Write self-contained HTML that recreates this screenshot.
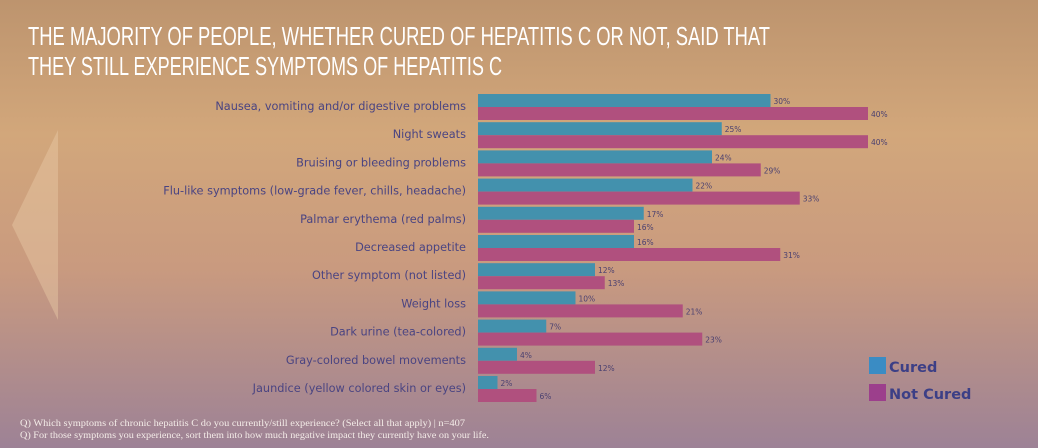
<!DOCTYPE html>
<html><head><meta charset="utf-8"><style>
html,body{margin:0;padding:0;width:1038px;height:448px;overflow:hidden}
svg{display:block}
</style></head><body>
<svg id="chart" width="1038" height="448" viewBox="0 0 1038 448">
<defs>
<linearGradient id="bg" x1="0" y1="0" x2="0" y2="1">
<stop offset="0" stop-color="#bd946e"/>
<stop offset="0.3" stop-color="#d2a77b"/>
<stop offset="0.6" stop-color="#c99a7f"/>
<stop offset="1" stop-color="#9d8296"/>
</linearGradient>
</defs>
<rect width="1038" height="448" fill="url(#bg)"/>
<polygon points="58,130 12,225 58,320" fill="#e8c9a6" opacity="0.45"/>
<text x="28" y="45" fill="#ffffff" font-family="'Liberation Sans Narrow','Liberation Sans',sans-serif" font-size="26" textLength="742" lengthAdjust="spacingAndGlyphs">THE MAJORITY OF PEOPLE, WHETHER CURED OF HEPATITIS C OR NOT, SAID THAT</text>
<text x="28" y="75" fill="#ffffff" font-family="'Liberation Sans Narrow','Liberation Sans',sans-serif" font-size="26" textLength="474" lengthAdjust="spacingAndGlyphs">THEY STILL EXPERIENCE SYMPTOMS OF HEPATITIS C</text>
<g id="plot"></g>
<rect x="869" y="357" width="17" height="17" fill="#3a8cc4"/>
<text x="889" y="372" fill="#3c3f86" font-family="'DejaVu Sans',sans-serif" font-weight="bold" font-size="14.5">Cured</text>
<rect x="869" y="384" width="17" height="17" fill="#9c3f8c"/>
<text x="889" y="399" fill="#3c3f86" font-family="'DejaVu Sans',sans-serif" font-weight="bold" font-size="14.5">Not Cured</text>
<text x="20" y="426" fill="#f4ece8" font-family="'Liberation Serif',serif" font-size="9.5" textLength="445" lengthAdjust="spacingAndGlyphs">Q) Which symptoms of chronic hepatitis C do you currently/still experience? (Select all that apply) | n=407</text>
<text x="20" y="438" fill="#f4ece8" font-family="'Liberation Serif',serif" font-size="9.5" textLength="469" lengthAdjust="spacingAndGlyphs">Q) For those symptoms you experience, sort them into how much negative impact they currently have on your life.</text>
</svg>
<script>
const categories = ["Nausea, vomiting and/or digestive problems","Night sweats","Bruising or bleeding problems","Flu-like symptoms (low-grade fever, chills, headache)","Palmar erythema (red palms)","Decreased appetite","Other symptom (not listed)","Weight loss","Dark urine (tea-colored)","Gray-colored bowel movements","Jaundice (yellow colored skin or eyes)"];
const cured = [30,25,24,22,17,16,12,10,7,4,2];
const notCured = [40,40,29,33,16,31,13,21,23,12,6];

const x0 = 478, pxPerPct = 9.75, y0 = 94, pitch = 28.2, barH = 13;
const xScale = v => x0 + v * pxPerPct;
const yScale = i => y0 + i * pitch;
const g = document.getElementById('plot');
const NS = 'http://www.w3.org/2000/svg';
function mk(tag, attrs){const e=document.createElementNS(NS,tag);for(const k in attrs)e.setAttribute(k,attrs[k]);g.appendChild(e);return e;}
categories.forEach((c,i)=>{
  const y = yScale(i);
  const lab = mk('text',{x:466,y:y+16,'text-anchor':'end',fill:'#4a4482','font-family':"'DejaVu Sans',sans-serif",'font-size':11.3});
  lab.textContent = c;
  
  
  const b1 = mk('rect',{x:x0,y:y,width:xScale(cured[i])-x0,height:barH,fill:'#4391ad'});
  
  
  const t1 = mk('text',{x:xScale(cured[i])+3,y:y+10,fill:'#4a4070','font-family':"'DejaVu Sans',sans-serif",'font-size':7.5});
  t1.textContent = cured[i]+'%';
  
  
  const b2 = mk('rect',{x:x0,y:y+barH,width:xScale(notCured[i])-x0,height:barH,fill:'#b0507e'});
  
  
  const t2 = mk('text',{x:xScale(notCured[i])+3,y:y+barH+10,fill:'#4a4070','font-family':"'DejaVu Sans',sans-serif",'font-size':7.5});
  t2.textContent = notCured[i]+'%';
  
  
});
</script>
</body></html>
